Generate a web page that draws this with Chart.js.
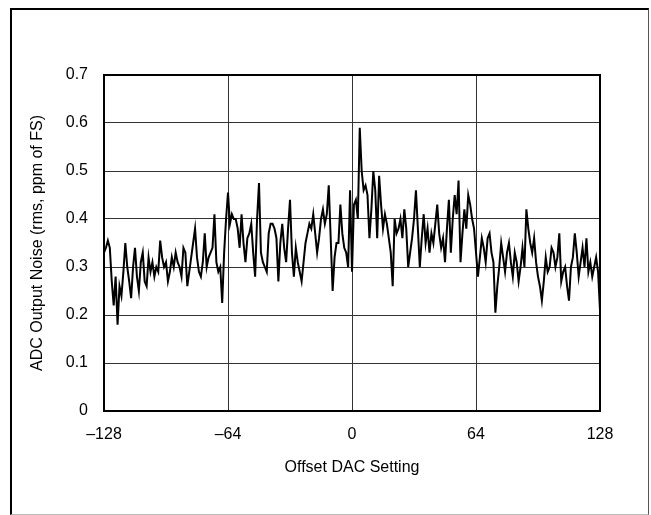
<!DOCTYPE html>
<html>
<head>
<meta charset="utf-8">
<script src="https://cdn.jsdelivr.net/npm/chart.js@4"></script>
<style>
  body { margin: 0; background: #fff; }
  #frame {
    position: absolute; left: 10px; top: 8px; width: 636px; height: 504px;
    border-left: 2px solid #000; border-top: 2px solid #000;
    border-right: 1px solid #555; border-bottom: 1px solid #bbb;
  }
  #noise-chart { position: absolute; left: 0; top: 0; }
</style>
</head>
<body>
<div id="frame"></div>
<canvas id="noise-chart" width="651" height="515"></canvas>
<script>
// rms noise per offset DAC code (-128 .. 128)
const noise = [
  0.33, 0.34, 0.355, 0.34, 0.27, 0.22, 0.28, 0.18, 0.26, 0.24,
  0.29, 0.35, 0.30, 0.27, 0.235, 0.30, 0.34, 0.28, 0.25, 0.31,
  0.33, 0.27, 0.26, 0.32, 0.29, 0.31, 0.28, 0.30, 0.29, 0.355,
  0.32, 0.30, 0.31, 0.27, 0.29, 0.32, 0.30, 0.33, 0.31, 0.30,
  0.28, 0.34, 0.33, 0.26, 0.29, 0.32, 0.35, 0.38, 0.32, 0.29,
  0.28, 0.31, 0.37, 0.30, 0.32, 0.33, 0.34, 0.41, 0.31, 0.29,
  0.30, 0.225, 0.33, 0.40, 0.455, 0.39, 0.41, 0.40, 0.40, 0.38,
  0.34, 0.41, 0.35, 0.31, 0.36, 0.37, 0.39, 0.33, 0.28, 0.40,
  0.475, 0.33, 0.31, 0.30, 0.29, 0.37, 0.39, 0.39, 0.38, 0.36,
  0.27, 0.35, 0.39, 0.34, 0.31, 0.38, 0.44, 0.33, 0.28, 0.34,
  0.31, 0.29, 0.27, 0.31, 0.35, 0.37, 0.39, 0.38, 0.41, 0.37,
  0.33, 0.36, 0.40, 0.42, 0.39, 0.41, 0.47, 0.36, 0.25, 0.32,
  0.35, 0.35, 0.43, 0.37, 0.34, 0.33, 0.30, 0.46, 0.29, 0.43,
  0.44, 0.40, 0.59, 0.50, 0.46, 0.47, 0.45, 0.36, 0.42, 0.50,
  0.46, 0.36, 0.49, 0.43, 0.38, 0.41, 0.39, 0.36, 0.33, 0.26,
  0.40, 0.37, 0.38, 0.40, 0.36, 0.42, 0.38, 0.30, 0.33, 0.36,
  0.40, 0.46, 0.38, 0.30, 0.36, 0.41, 0.35, 0.38, 0.33, 0.37,
  0.35, 0.39, 0.43, 0.37, 0.34, 0.36, 0.31, 0.38, 0.44, 0.33,
  0.40, 0.45, 0.41, 0.48, 0.31, 0.37, 0.42, 0.38, 0.45, 0.43,
  0.40, 0.38, 0.33, 0.28, 0.32, 0.36, 0.34, 0.31, 0.36, 0.37,
  0.33, 0.31, 0.205, 0.26, 0.30, 0.35, 0.32, 0.29, 0.33, 0.35,
  0.31, 0.28, 0.33, 0.31, 0.27, 0.30, 0.34, 0.30, 0.42, 0.38,
  0.35, 0.33, 0.36, 0.31, 0.28, 0.26, 0.23, 0.27, 0.32, 0.29,
  0.30, 0.34, 0.33, 0.30, 0.32, 0.37, 0.27, 0.29, 0.30, 0.26,
  0.23, 0.30, 0.32, 0.37, 0.33, 0.28, 0.31, 0.34, 0.30, 0.36,
  0.29, 0.31, 0.28, 0.30, 0.32, 0.29, 0.21
];
const dacCodes = noise.map((_, i) => i - 128);
const xTicks = [-128, -64, 0, 64, 128];
const yTicks = [0, 0.1, 0.2, 0.3, 0.4, 0.5, 0.6, 0.7];

const font = { family: "'Liberation Sans', Arial, sans-serif", size: 16 };

// black box round the plot area
const plotBox = {
  id: "plotBox",
  afterDraw(chart) {
    const { ctx, chartArea: a } = chart;
    ctx.save();
    ctx.strokeStyle = "#000";
    ctx.lineWidth = 2;
    ctx.strokeRect(a.left, a.top, a.right - a.left, a.bottom - a.top);
    ctx.restore();
  },
};

const noiseChart = new Chart(document.getElementById("noise-chart"), {
  type: "line",
  data: {
    datasets: [
      {
        data: dacCodes.map((x, i) => ({ x: x, y: noise[i] })),
        borderColor: "#000",
        borderWidth: 2,
        pointRadius: 0,
        tension: 0,
      },
    ],
  },
  options: {
    responsive: false,
    animation: false,
    layout: { padding: { top: 75, right: 51, left: 0, bottom: 0 } },
    plugins: { legend: { display: false }, tooltip: { enabled: false } },
    scales: {
      x: {
        type: "linear",
        min: -128,
        max: 128,
        afterBuildTicks: (s) => { s.ticks = xTicks.map((v) => ({ value: v })); },
        afterFit: (s) => { s.height = 104; },
        ticks: {
          color: "#000",
          font: font,
          padding: 14,
          maxRotation: 0,
          callback: (v) => String(v).replace("-", "\u2013"),
        },
        grid: { color: "#333", lineWidth: 1, drawTicks: false },
        border: { display: false },
        title: {
          display: true,
          text: "Offset DAC Setting",
          color: "#000",
          font: font,
          padding: { top: 0, bottom: 38 },
        },
      },
      y: {
        min: 0,
        max: 0.7,
        afterBuildTicks: (s) => { s.ticks = yTicks.map((v) => ({ value: v })); },
        afterFit: (s) => { s.width = 104; },
        ticks: {
          color: "#000",
          font: font,
          padding: 16,
          callback: (v) => (v === 0 ? "0" : v.toFixed(1)),
        },
        grid: { color: "#333", lineWidth: 1, drawTicks: false },
        border: { display: false },
        title: {
          display: true,
          text: "ADC Output Noise (rms, ppm of FS)",
          color: "#000",
          font: font,
          padding: { top: 28, bottom: 0 },
        },
      },
    },
  },
  plugins: [plotBox],
});
</script>
</body>
</html>
